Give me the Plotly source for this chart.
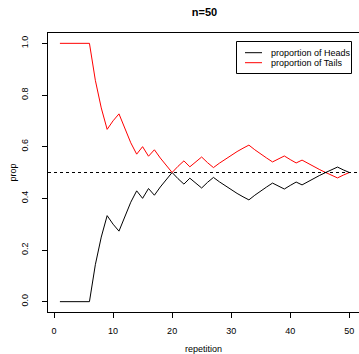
import plotly.graph_objects as go

repetition = list(range(1, 51))
prop_heads = [0, 0, 0, 0, 0, 0, 0.143, 0.25, 0.333, 0.3,
              0.273, 0.333, 0.385, 0.429, 0.4, 0.438, 0.412, 0.444, 0.474, 0.5,
              0.476, 0.455, 0.478, 0.458, 0.44, 0.462, 0.481, 0.464, 0.448, 0.433,
              0.419, 0.406, 0.394, 0.412, 0.429, 0.444, 0.459, 0.447, 0.436, 0.45,
              0.463, 0.452, 0.465, 0.477, 0.489, 0.5, 0.511, 0.521, 0.51, 0.5]
prop_tails = [1, 1, 1, 1, 1, 1, 0.857, 0.75, 0.667, 0.7,
              0.727, 0.667, 0.615, 0.571, 0.6, 0.563, 0.588, 0.556, 0.526, 0.5,
              0.524, 0.545, 0.522, 0.542, 0.56, 0.538, 0.519, 0.536, 0.552, 0.567,
              0.581, 0.594, 0.606, 0.588, 0.571, 0.556, 0.541, 0.553, 0.564, 0.55,
              0.537, 0.548, 0.535, 0.523, 0.511, 0.5, 0.489, 0.479, 0.49, 0.5]
reference_level = 0.5
x_ticks = [0, 10, 20, 30, 40, 50]
y_ticks = [0.0, 0.2, 0.4, 0.6, 0.8, 1.0]
y_tick_labels = ["0.0", "0.2", "0.4", "0.6", "0.8", "1.0"]
legend_labels = ["proportion of Heads", "proportion of Tails"]
colors = ["black", "red"]

W, H = 359, 354
ML, MR, MT, MB = 48, 0, 33, 42
FONT = "Liberation Sans, Arial, Helvetica, sans-serif"

fig = go.Figure()
fig.add_trace(go.Scatter(x=repetition, y=prop_heads, mode="lines",
                         line=dict(color=colors[0], width=1), name=legend_labels[0],
                         showlegend=False))
fig.add_trace(go.Scatter(x=repetition, y=prop_tails, mode="lines",
                         line=dict(color=colors[1], width=1), name=legend_labels[1],
                         showlegend=False))

fig.add_shape(type="line", xref="paper", yref="y", x0=0, x1=1,
              y0=reference_level, y1=reference_level,
              line=dict(color="black", width=1, dash="3px,3px"))

pw = W - ML - MR
ph = H - MT - MB
def px(xp):
    return (xp - ML) / pw
def py(yp):
    return (H - MB - yp) / ph

# legend box
fig.add_shape(type="rect", xref="paper", yref="paper",
              x0=px(236.5), x1=px(351.5), y0=py(73.5), y1=py(41.5),
              line=dict(color="black", width=1), fillcolor="white")
rows = [52.7, 62.7]
for lab, col, ry in zip(legend_labels, colors, rows):
    fig.add_shape(type="line", xref="paper", yref="paper",
                  x0=px(245), x1=px(262), y0=py(ry), y1=py(ry),
                  line=dict(color=col, width=1))
    fig.add_annotation(xref="paper", yref="paper", x=px(268.5), y=py(ry),
                       text=lab, showarrow=False, xanchor="left", yanchor="middle",
                       font=dict(family=FONT, size=9, color="black"))

fig.update_layout(
    width=W, height=H,
    margin=dict(l=ML, r=MR, t=MT, b=MB, pad=0),
    paper_bgcolor="white", plot_bgcolor="white",
    font=dict(family=FONT, size=9, color="black"),
    title=dict(text="<b>n=50</b>", x=px(204.5), xref="paper", xanchor="center",
               y=1 - 12.5 / H, yanchor="middle", font=dict(size=11, family=FONT)),
    showlegend=False,
)
fig.update_xaxes(range=[(ML - 54) / 5.906, (W - MR - 54) / 5.906],
                 tickmode="array", tickvals=x_ticks,
                 ticks="outside", ticklen=5, tickcolor="black", tickwidth=1,
                 ticklabelstandoff=5,
                 showline=True, linecolor="black", linewidth=1, mirror=True,
                 showgrid=False, zeroline=False,
                 title=dict(text="repetition", standoff=10, font=dict(size=9)),
                 tickfont=dict(size=9))
fig.update_yaxes(range=[-0.04, 1.04], tickmode="array", tickvals=y_ticks,
                 ticktext=y_tick_labels, tickangle=-90,
                 ticks="outside", ticklen=5, tickcolor="black", tickwidth=1,
                 ticklabelstandoff=10,
                 showline=True, linecolor="black", linewidth=1, mirror=True,
                 showgrid=False, zeroline=False,
                 title=dict(text="prop", standoff=2, font=dict(size=9)),
                 tickfont=dict(size=9))

fig.write_html("out.html")
